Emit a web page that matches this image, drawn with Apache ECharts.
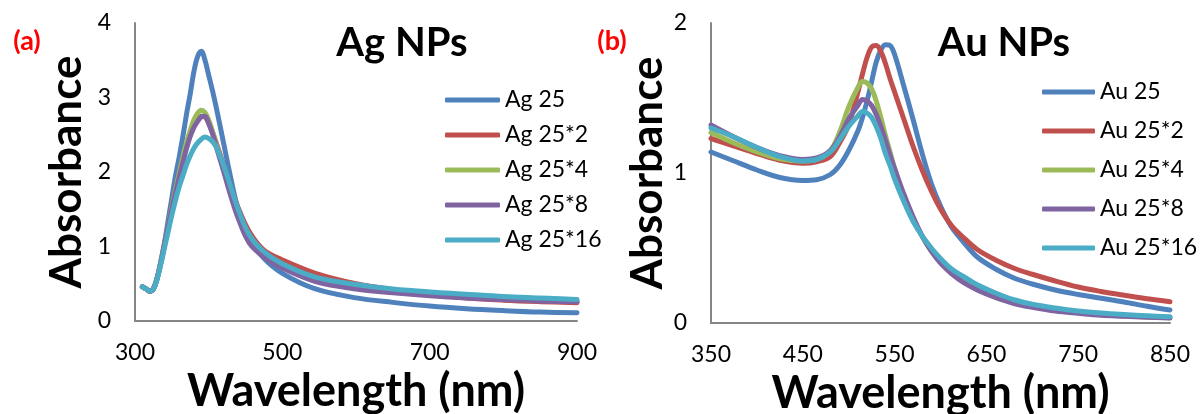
<!DOCTYPE html>
<html>
<head>
<meta charset="utf-8">
<script src="https://cdn.jsdelivr.net/npm/echarts@6/dist/echarts.min.js"></script>
<style>
html,body{margin:0;padding:0;background:#fff;}
#chart{width:1203px;height:414px;}
</style>
</head>
<body>
<div id="chart"></div>
<script>
// ---------- data ----------
const agWavelength = [310,315,320,325,330,335,340,345,350,355,360,365,370,375,380,385,390,395,400,405,410,420,430,440,455,475,500,545,600,650,700,750,800,850,900];
const ag25    = [0.46,0.43,0.40,0.44,0.58,0.80,1.05,1.35,1.65,1.95,2.20,2.48,2.78,3.05,3.35,3.55,3.62,3.50,3.30,3.10,2.88,2.40,1.92,1.50,1.12,0.84,0.64,0.43,0.31,0.25,0.20,0.165,0.14,0.12,0.11];
const ag25x2  = [0.46,0.43,0.40,0.43,0.57,0.78,1.02,1.27,1.52,1.75,1.96,2.16,2.34,2.50,2.62,2.70,2.75,2.74,2.66,2.54,2.40,2.10,1.80,1.52,1.20,0.95,0.82,0.64,0.50,0.42,0.36,0.31,0.28,0.26,0.245];
const ag25x4  = [0.46,0.43,0.40,0.43,0.57,0.78,1.02,1.27,1.52,1.76,1.98,2.20,2.40,2.56,2.70,2.79,2.83,2.80,2.70,2.55,2.38,2.05,1.72,1.43,1.10,0.87,0.72,0.55,0.45,0.39,0.35,0.32,0.30,0.28,0.265];
const ag25x8  = [0.46,0.43,0.40,0.43,0.57,0.78,1.02,1.27,1.50,1.72,1.93,2.13,2.32,2.48,2.60,2.68,2.74,2.75,2.65,2.52,2.35,2.02,1.68,1.38,1.05,0.86,0.71,0.53,0.43,0.38,0.34,0.31,0.29,0.27,0.26];
const ag25x16 = [0.46,0.43,0.40,0.43,0.56,0.76,0.98,1.20,1.42,1.62,1.80,1.95,2.10,2.22,2.32,2.39,2.44,2.47,2.45,2.41,2.34,2.10,1.80,1.50,1.16,0.93,0.77,0.59,0.49,0.43,0.39,0.36,0.33,0.31,0.29];
const agNames = ['Ag 25','Ag 25*2','Ag 25*4','Ag 25*8','Ag 25*16'];

const auWavelength = [350,375,400,425,450,465,480,490,500,510,515,520,525,530,535,540,545,550,560,570,580,590,600,612,625,640,660,680,700,725,750,775,800,825,850];
const au25    = [1.14,1.08,1.02,0.97,0.95,0.955,0.99,1.05,1.15,1.28,1.37,1.48,1.61,1.74,1.82,1.855,1.85,1.79,1.58,1.36,1.13,0.93,0.78,0.64,0.54,0.44,0.36,0.30,0.26,0.22,0.19,0.165,0.14,0.112,0.087];
const au25x2  = [1.23,1.18,1.13,1.085,1.065,1.075,1.11,1.20,1.32,1.54,1.66,1.77,1.84,1.85,1.81,1.73,1.63,1.54,1.36,1.18,1.02,0.88,0.76,0.65,0.57,0.49,0.42,0.365,0.325,0.28,0.24,0.21,0.185,0.162,0.142];
const au25x4  = [1.27,1.20,1.14,1.095,1.08,1.09,1.15,1.27,1.44,1.57,1.61,1.60,1.56,1.48,1.37,1.25,1.14,1.03,0.85,0.70,0.58,0.48,0.41,0.33,0.28,0.225,0.17,0.135,0.11,0.085,0.07,0.056,0.047,0.04,0.035];
const au25x8  = [1.32,1.24,1.17,1.115,1.09,1.10,1.15,1.24,1.36,1.45,1.49,1.48,1.45,1.39,1.31,1.22,1.12,1.03,0.86,0.71,0.58,0.48,0.40,0.33,0.27,0.22,0.17,0.13,0.105,0.08,0.065,0.052,0.045,0.038,0.033];
const au25x16 = [1.30,1.24,1.17,1.11,1.08,1.09,1.14,1.22,1.31,1.38,1.41,1.40,1.37,1.31,1.23,1.13,1.05,0.96,0.81,0.68,0.58,0.50,0.43,0.36,0.31,0.255,0.20,0.155,0.125,0.10,0.08,0.066,0.056,0.048,0.042];
const auNames = ['Au 25','Au 25*2','Au 25*4','Au 25*8','Au 25*16'];

const seriesColors = ['#4F81BD','#C0504D','#9BBB59','#8064A2','#4BACC6'];

// ---------- build ----------
const FONT = 'Lato';
function pairs(xs, ys){ return xs.map((x,i)=>[x, ys[i]]); }
function mkSeries(names, xs, ysList, idx){
  return names.map((n,i)=>({
    name:n, type:'line', xAxisIndex:idx, yAxisIndex:idx,
    data:pairs(xs, ysList[i]), showSymbol:false, symbol:'none',
    smooth:0.35,
    lineStyle:{width:5, color:seriesColors[i], cap:'round', join:'round'},
    itemStyle:{color:seriesColors[i]},
    emphasis:{disabled:true}, animation:false
  }));
}
const axisLineStyle = {show:true, onZero:false, lineStyle:{color:'#868686', width:2}};
function xAx(idx, min, max, interval){
  return {type:'value', gridIndex:idx, min, max, interval,
    axisLine:axisLineStyle, axisTick:{show:false}, splitLine:{show:false},
    axisLabel:{fontSize:23, color:'#000', margin:20, fontFamily:FONT},
    name:'Wavelength (nm)', nameLocation:'middle', nameGap:48,
    nameTextStyle:{fontSize:45, fontWeight:'bold', color:'#000', fontFamily:FONT}};
}
function yAx(idx, max, gap){
  return {type:'value', gridIndex:idx, min:0, max, interval:1,
    axisLine:axisLineStyle, axisTick:{show:false}, splitLine:{show:false},
    axisLabel:{fontSize:23, color:'#000', margin:24, fontFamily:FONT},
    name:'Absorbance', nameLocation:'middle', nameGap:gap, nameRotate:90,
    nameTextStyle:{fontSize:44, fontWeight:'bold', color:'#000', fontFamily:FONT}};
}
function legend(names, left, top, gap, w){
  return {data:names, orient:'vertical', left, top, padding:0, itemGap:gap, itemWidth:w, itemHeight:5,
    icon:'roundRect', selectedMode:false,
    textStyle:{fontSize:23, color:'#000', fontFamily:FONT, lineHeight:24}};
}
const option = {
  animation:false,
  backgroundColor:'#fff',
  grid:[
    {left:135, top:23, width:442, height:298, containLabel:false, outerBoundsMode:'none'},
    {left:711, top:23, width:459, height:300, containLabel:false, outerBoundsMode:'none'}
  ],
  xAxis:[xAx(0,300,900,200), xAx(1,350,850,100)],
  yAxis:[yAx(0,4,46), yAx(1,2,38)],
  legend:[legend(agNames,445,88,11,55), legend(auNames,1042,80,15,53)],
  series:[].concat(
    mkSeries(agNames, agWavelength, [ag25,ag25x2,ag25x4,ag25x8,ag25x16], 0),
    mkSeries(auNames, auWavelength, [au25,au25x2,au25x4,au25x8,au25x16], 1)
  ),
  graphic:[
    {type:'text', x:402, y:43, style:{text:'Ag NPs', font:'bold 40px Lato', fill:'#000', textAlign:'center', textVerticalAlign:'middle'}},
    {type:'text', x:1004, y:43, style:{text:'Au NPs', font:'bold 40px Lato', fill:'#000', textAlign:'center', textVerticalAlign:'middle'}},
    {type:'text', x:27, y:41, style:{text:'(a)', font:'bold 27px Lato', fill:'#FF0000', textAlign:'center', textVerticalAlign:'middle'}},
    {type:'text', x:612, y:41, style:{text:'(b)', font:'bold 27px Lato', fill:'#FF0000', textAlign:'center', textVerticalAlign:'middle'}}
  ]
};
const chart = echarts.init(document.getElementById('chart'), null, {renderer:'canvas'});
chart.setOption(option);
</script>
</body>
</html>
